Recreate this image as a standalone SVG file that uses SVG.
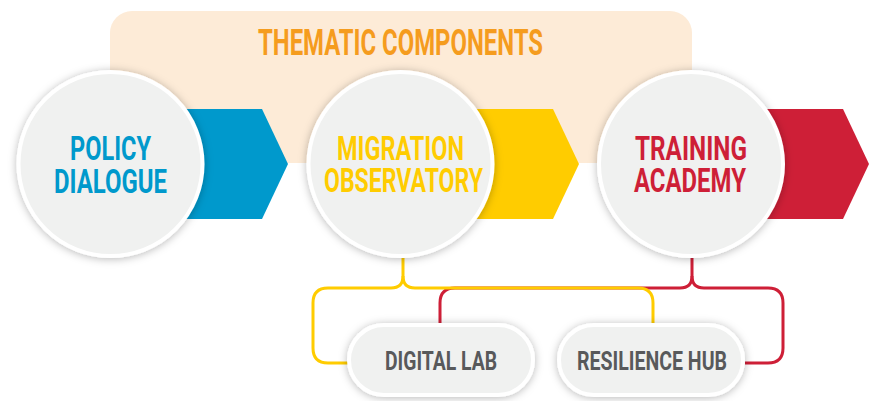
<svg xmlns="http://www.w3.org/2000/svg" width="875" height="401" viewBox="0 0 875 401">
  <defs>
    <filter id="sh" x="-20%" y="-20%" width="140%" height="140%">
      <feDropShadow dx="0" dy="1" stdDeviation="4" flood-color="#000" flood-opacity="0.28"/>
    </filter>
    <style>
      .lbl { font-family: "Roboto", "Liberation Sans", sans-serif; font-weight: 700; text-anchor: middle; }
      .circ { fill: #F0F1F0; stroke: #FFFFFF; stroke-width: 4; filter: url(#sh); }
      .pill { fill: #F0F1F0; stroke: #FFFFFF; stroke-width: 4; filter: url(#sh); }
      .ln { fill: none; stroke-width: 3; stroke-linecap: butt; stroke-linejoin: round; }
    </style>
  </defs>

  <g id="banner">
    <rect x="110" y="11" width="582" height="152" rx="22" ry="22" fill="#FDEBD7"/>
    <text class="lbl" x="400.5" y="55" font-size="37" fill="#F59C1E" textLength="285" lengthAdjust="spacingAndGlyphs">THEMATIC COMPONENTS</text>
  </g>

  <g id="connectors">
    <path class="ln" stroke="#CE1F37" d="M692,258 V276 Q692,288 680,288 H455 Q440,288 440,303 V325"/>
    <path class="ln" stroke="#CE1F37" d="M692,276 Q692,288 704,288 H768 Q783,288 783,303 V348 Q783,363 768,363 H745"/>
    <path class="ln" stroke="#FFCC00" d="M403,258 V276 Q403,288 391,288 H328 Q313,288 313,303 V348 Q313,363 328,363 H349"/>
    <path class="ln" stroke="#FFCC00" d="M403,276 Q403,288 415,288 H638 Q653,288 653,303 V325"/>
  </g>

  <g id="policy-dialogue">
    <polygon points="110,109 262,109 288,164 262,219 110,219" fill="#0099CC"/>
    <circle class="circ" cx="110.5" cy="164" r="92"/>
    <text class="lbl" x="110.5" y="160" font-size="33" fill="#0099CC" textLength="81" lengthAdjust="spacingAndGlyphs">POLICY</text>
    <text class="lbl" x="110.5" y="193" font-size="33" fill="#0099CC" textLength="113" lengthAdjust="spacingAndGlyphs">DIALOGUE</text>
  </g>

  <g id="migration-observatory">
    <polygon points="400,109 553,109 579,164 553,219 400,219" fill="#FFCC00"/>
    <circle class="circ" cx="400.5" cy="164" r="92"/>
    <text class="lbl" x="400.5" y="160" font-size="33" fill="#FFCC00" textLength="127" lengthAdjust="spacingAndGlyphs">MIGRATION</text>
    <text class="lbl" x="403.5" y="192" font-size="33" fill="#FFCC00" textLength="159" lengthAdjust="spacingAndGlyphs">OBSERVATORY</text>
  </g>

  <g id="training-academy">
    <polygon points="691,109 843,109 869,164 843,219 691,219" fill="#CE1F37"/>
    <circle class="circ" cx="691" cy="164" r="92"/>
    <text class="lbl" x="691" y="160" font-size="33" fill="#CE1F37" textLength="112" lengthAdjust="spacingAndGlyphs">TRAINING</text>
    <text class="lbl" x="690" y="192" font-size="33" fill="#CE1F37" textLength="112" lengthAdjust="spacingAndGlyphs">ACADEMY</text>
  </g>

  <g id="digital-lab">
    <rect class="pill" x="349" y="325" width="184" height="70" rx="35" ry="35"/>
    <text class="lbl" x="441" y="370" font-size="26" fill="#58595B" textLength="112" lengthAdjust="spacingAndGlyphs">DIGITAL LAB</text>
  </g>

  <g id="resilience-hub">
    <rect class="pill" x="559" y="325" width="184" height="70" rx="35" ry="35"/>
    <text class="lbl" x="652" y="370" font-size="26" fill="#58595B" textLength="150" lengthAdjust="spacingAndGlyphs">RESILIENCE HUB</text>
  </g>
</svg>
